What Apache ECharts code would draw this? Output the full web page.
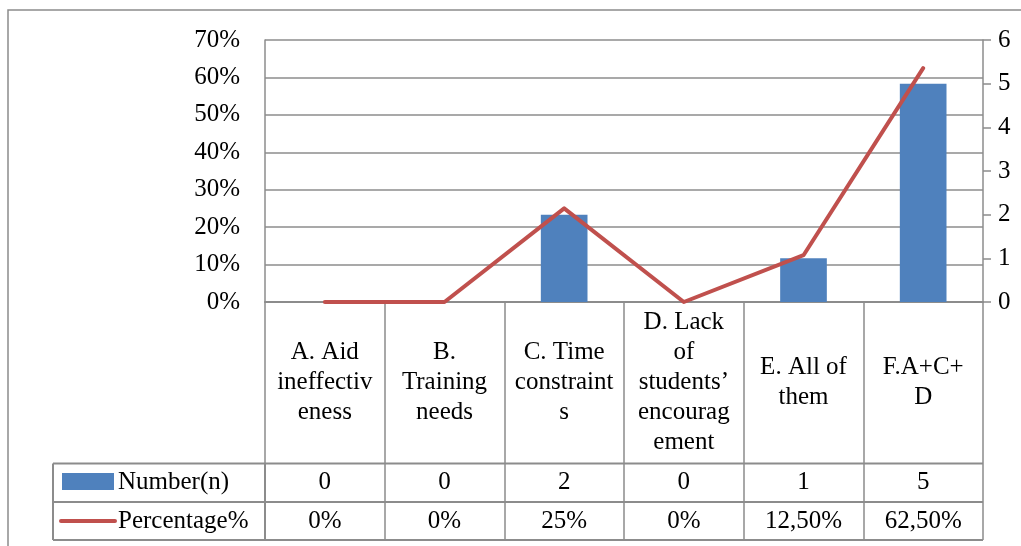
<!DOCTYPE html>
<html><head><meta charset="utf-8">
<script src="https://cdn.jsdelivr.net/npm/echarts@6/dist/echarts.min.js"></script>
<style>html,body{margin:0;padding:0;background:#fff}#c{width:1021px;height:546px}</style>
</head><body><div id="c"></div>
<script>
const categories = ['A. Aid\nineffectiv\neness','B.\nTraining\nneeds','C. Time\nconstraint\ns','D. Lack\nof\nstudents\u2019\nencourag\nement','E. All of\nthem','F.A+C+\nD'];
const numbers = [0, 0, 2, 0, 1, 5];
const percentages = [0, 0, 25, 0, 12.5, 62.5];
const seriesNames = ['Number(n)', 'Percentage%'];
const leftAxis = {min: 0, max: 70, interval: 10};
const rightAxis = {min: 0, max: 6, interval: 1};

const FONT = "Liberation Serif";
const FS = 25;
const GRAY = '#8c8c8c';
const BLUE = '#4F81BD';
const RED = '#C0504D';

function fmtPct(v) { return Number.isInteger(v) ? v + '%' : v.toFixed(2).replace('.', ',') + '%'; }
const pctLabels = percentages.map(fmtPct);
const numLabels = numbers.map(String);

const gridL = 265, gridR = 983, gridT = 40, axisY = 302;
const row1 = 463.5, row2 = 502, row3 = 540, tableL = 53;

const txt = {fontFamily: FONT, fontSize: FS, color: '#000', fontWeight: 'normal', fontStyle: 'normal'};
function tableAxis(data, margin) {
  return {
    type: 'category', data: data, position: 'bottom', gridIndex: 0,
    axisLine: {show: false}, axisTick: {show: false}, splitLine: {show: false},
    axisLabel: Object.assign({interval: 0, margin: margin, verticalAlign: 'middle'}, txt)
  };
}

const chart = echarts.init(document.getElementById('c'), null, {renderer: 'canvas'});
chart.setOption({
  animation: false,
  backgroundColor: '#fff',
  textStyle: {fontFamily: FONT, fontSize: FS, color: '#000'},
  grid: {left: gridL, right: 1021 - gridR, top: gridT, bottom: 546 - axisY, containLabel: false},
  xAxis: [
    {
      type: 'category', data: categories, position: 'bottom',
      axisLine: {show: true, lineStyle: {color: GRAY, width: 2}},
      axisTick: {show: true, length: row3 - axisY, lineStyle: {color: GRAY, width: 1.5}},
      splitLine: {show: false},
      axisLabel: Object.assign({interval: 0, margin: (row1 - axisY) / 2, verticalAlign: 'middle', lineHeight: 30, align: 'center'}, txt)
    },
    tableAxis(numLabels, (row1 + row2) / 2 - axisY),
    tableAxis(pctLabels, (row2 + row3) / 2 - axisY)
  ],
  yAxis: [
    {
      type: 'value', min: leftAxis.min, max: leftAxis.max, interval: leftAxis.interval, position: 'left',
      axisLine: {show: true, lineStyle: {color: GRAY, width: 1.5}},
      axisTick: {show: false},
      splitLine: {show: true, lineStyle: {color: GRAY, width: 1.5}},
      axisLabel: Object.assign({margin: 25, formatter: '{value}%'}, txt)
    },
    {
      type: 'value', min: rightAxis.min, max: rightAxis.max, interval: rightAxis.interval, position: 'right',
      axisLine: {show: true, lineStyle: {color: GRAY, width: 1.5}},
      axisTick: {show: true, inside: false, length: 8, lineStyle: {color: GRAY, width: 1.5}},
      splitLine: {show: false},
      axisLabel: Object.assign({margin: 15}, txt)
    }
  ],
  series: [
    {
      name: seriesNames[0], type: 'bar', xAxisIndex: 0, yAxisIndex: 1, data: numbers,
      barWidth: '39%', itemStyle: {color: BLUE}
    },
    {
      name: seriesNames[1], type: 'line', xAxisIndex: 0, yAxisIndex: 0, data: percentages,
      symbol: 'none', lineStyle: {color: RED, width: 4, cap: 'round', join: 'round'}, itemStyle: {color: RED}, z: 5
    }
  ],
  graphic: [
    {type: 'rect', shape: {x: 8, y: 10, width: 1100, height: 700}, style: {fill: 'none', stroke: GRAY, lineWidth: 1.5}, silent: true},
    {type: 'line', shape: {x1: tableL, y1: row1, x2: gridR, y2: row1}, style: {stroke: GRAY, lineWidth: 2}},
    {type: 'line', shape: {x1: tableL, y1: row2, x2: gridR, y2: row2}, style: {stroke: GRAY, lineWidth: 2}},
    {type: 'line', shape: {x1: tableL, y1: row3, x2: gridR, y2: row3}, style: {stroke: GRAY, lineWidth: 2}},
    {type: 'line', shape: {x1: tableL, y1: row1, x2: tableL, y2: row3}, style: {stroke: GRAY, lineWidth: 2}},
    {type: 'line', shape: {x1: gridL, y1: row1, x2: gridL, y2: row3}, style: {stroke: GRAY, lineWidth: 2}},
    {type: 'rect', shape: {x: 62, y: 473, width: 52, height: 17}, style: {fill: BLUE}},
    {type: 'line', shape: {x1: 61, y1: 521, x2: 115, y2: 521}, style: {stroke: RED, lineWidth: 4, lineCap: 'round'}},
    {type: 'text', x: 118, y: (row1 + row2) / 2, style: {text: seriesNames[0], fontFamily: FONT, fontSize: FS, fill: '#000', verticalAlign: 'middle'}},
    {type: 'text', x: 118, y: (row2 + row3) / 2, style: {text: seriesNames[1], fontFamily: FONT, fontSize: FS, fill: '#000', verticalAlign: 'middle'}}
  ]
});
</script>
</body></html>
